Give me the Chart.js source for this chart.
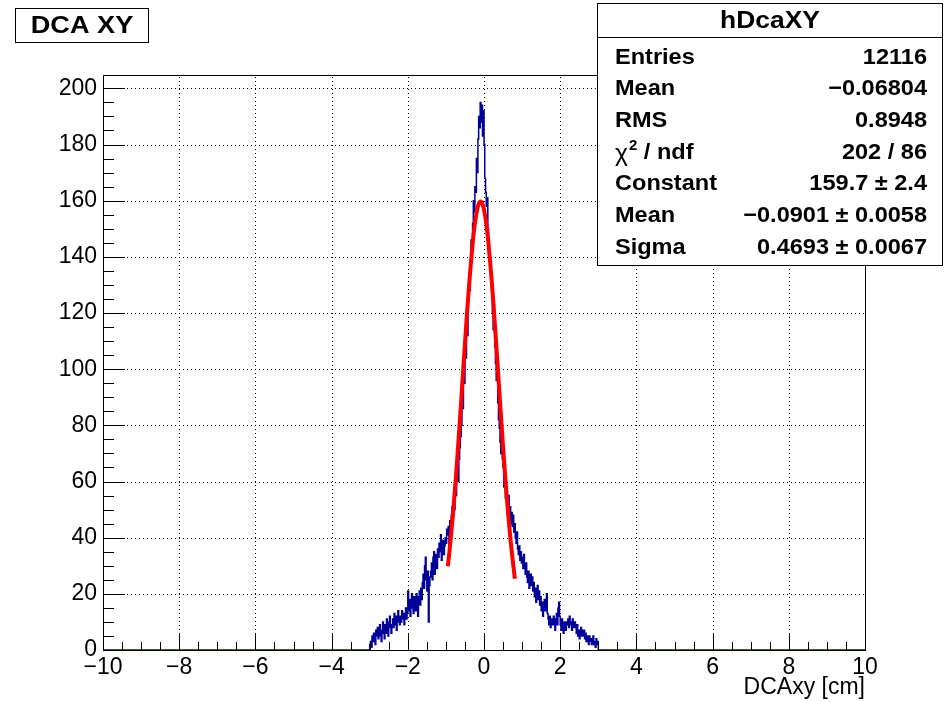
<!DOCTYPE html>
<html>
<head>
<meta charset="utf-8">
<script src="https://cdn.jsdelivr.net/npm/chart.js@4.4.0/dist/chart.umd.min.js"></script>
<style>
  html, body { margin: 0; padding: 0; background: #fff; }
</style>
</head>
<body>
<canvas id="myChart" width="944" height="702"></canvas>
<script>
// histogram hDcaXY: 1000 bins from -10 to 10, only [-3, 3) is filled
var histMin = -10;
var histMax = 10;
var binWidth = 0.02;
var firstFilledEdge = -3.0;
// bin contents, 10 bins (0.2 cm) per row, starting at -3.00
var counts = [
  2, 3, 1, 5, 3, 6, 4, 2, 7, 5,
  8, 4, 6, 9, 5, 3, 7, 10, 6, 4,
  9, 6, 11, 7, 5, 10, 12, 8, 6, 9,
  11, 8, 13, 9, 12, 7, 10, 14, 11, 9,
  12, 10, 14, 11, 13, 9, 12, 15, 11, 13,
  21, 14, 18, 12, 17, 20, 15, 13, 19, 16,
  14, 20, 17, 12, 19, 21, 16, 22, 18, 24,
  27, 22, 30, 33, 25, 21, 28, 10, 23, 26,
  28, 31, 25, 33, 35, 27, 30, 34, 29, 36,
  33, 38, 35, 41, 32, 36, 39, 34, 37, 40,
  38, 43, 41, 44, 36, 46, 42, 48, 51, 47,
  53, 50, 58, 55, 61, 64, 60, 68, 72, 76,
  80, 92, 86, 98, 95, 108, 104, 116, 112, 124,
  130, 128, 138, 146, 142, 152, 160, 156, 165, 163,
  175, 170, 182, 190, 186, 195, 188, 194, 183, 192,
  180, 168, 163, 158, 161, 150, 146, 140, 135, 130,
  128, 120, 114, 118, 108, 102, 96, 99, 88, 82,
  79, 74, 70, 76, 68, 65, 58, 62, 54, 57,
  52, 49, 55, 47, 51, 45, 49, 44, 48, 42,
  45, 40, 38, 42, 36, 34, 37, 32, 35, 31,
  33, 29, 34, 30, 27, 31, 26, 24, 28, 22,
  25, 27, 23, 26, 21, 24, 19, 22, 17, 20,
  23, 18, 21, 16, 19, 14, 17, 12, 15, 18,
  14, 17, 20, 13, 11, 9, 12, 8, 10, 11,
  9, 12, 10, 7, 11, 13, 9, 15, 17, 12,
  9, 7, 11, 8, 6, 10, 8, 7, 10, 9,
  11, 8, 12, 9, 10, 7, 11, 9, 8, 10,
  8, 6, 9, 5, 7, 4, 6, 8, 5, 7,
  5, 7, 4, 6, 3, 5, 4, 2, 5, 3,
  4, 2, 3, 5, 2, 3, 1, 4, 2, 3
];

// gaus fit curve
var fitX = [-0.95, -0.9, -0.8, -0.7, -0.6, -0.5, -0.4, -0.3, -0.25, -0.2, -0.15, -0.1, -0.05, 0, 0.05, 0.1, 0.2, 0.3, 0.4, 0.5, 0.6, 0.7, 0.81];
var fitY = [29.8, 36.0, 50.9, 68.6, 88.5, 109.1, 128.4, 144.5, 150.7, 155.4, 158.4, 159.7, 159.1, 156.8, 152.7, 147.1, 131.9, 113.1, 92.6, 72.4, 54.2, 38.7, 25.4];

// axes
var xTickStep = 2;
var xMinorStep = 0.5;
var yMax = 204.75;
var yTickStep = 20;
var yMinorStep = 5;

// boxes
var titleText = 'DCA XY';
var statsTitle = 'hDcaXY';
var statsLabels = ['Entries', 'Mean', 'RMS', 'CHI2', 'Constant', 'Mean', 'Sigma'];
var statsValues = ['12116', '\u22120.06804', '0.8948', '202 / 86', '159.7 \u00b1 2.4', '\u22120.0901 \u00b1 0.0058', '0.4693 \u00b1 0.0067'];

var FONT = '"Liberation Sans", Arial, Helvetica, sans-serif';

// step outline points (low edge of each bin)
var histPoints = [{x: histMin, y: 0}];
for (var i = 0; i < counts.length; i++) {
  histPoints.push({x: +(firstFilledEdge + i * binWidth).toFixed(2), y: counts[i]});
}
histPoints.push({x: +(firstFilledEdge + counts.length * binWidth).toFixed(2), y: 0});
histPoints.push({x: histMax, y: 0});

var fitPoints = fitX.map(function(x, i) { return {x: x, y: fitY[i]}; });

function stretchText(ctx, text, x, y, align, font, sx) {
  ctx.save();
  ctx.translate(x, y);
  ctx.scale(sx, 1);
  ctx.font = font;
  ctx.textAlign = align;
  ctx.textBaseline = 'middle';
  ctx.fillText(text, 0, 0);
  ctx.restore();
}

var rootFrame = {
  id: 'rootFrame',
  beforeDatasetsDraw: function(chart) {
    var ctx = chart.ctx, a = chart.chartArea;
    var xs = chart.scales.x, ys = chart.scales.y;
    ctx.save();
    ctx.strokeStyle = '#000';
    ctx.lineWidth = 1;
    ctx.setLineDash([1, 3]);
    xs.ticks.forEach(function(t) {
      if (t.value <= histMin || t.value >= histMax) return;
      var px = Math.round(xs.getPixelForValue(t.value)) + 0.5;
      ctx.beginPath(); ctx.moveTo(px, a.bottom); ctx.lineTo(px, a.top); ctx.stroke();
    });
    ys.ticks.forEach(function(t) {
      if (t.value <= 0) return;
      var py = Math.round(ys.getPixelForValue(t.value)) + 0.5;
      ctx.beginPath(); ctx.moveTo(a.left, py); ctx.lineTo(a.right, py); ctx.stroke();
    });
    ctx.restore();
  },
  afterDatasetsDraw: function(chart) {
    var ctx = chart.ctx, a = chart.chartArea;
    var xs = chart.scales.x, ys = chart.scales.y;
    ctx.save();
    ctx.strokeStyle = '#000';
    ctx.lineWidth = 1;
    ctx.strokeRect(Math.round(a.left) + 0.5, Math.round(a.top) + 0.5,
      Math.round(a.right - a.left), Math.round(a.bottom - a.top));
    // inward ticks
    ctx.beginPath();
    var v;
    for (v = histMin; v <= histMax + 1e-9; v += xMinorStep) {
      var px = Math.round(xs.getPixelForValue(v)) + 0.5;
      var major = Math.abs(v / xTickStep - Math.round(v / xTickStep)) < 1e-6;
      ctx.moveTo(px, a.bottom);
      ctx.lineTo(px, a.bottom - (major ? 17 : 8));
    }
    for (v = 0; v <= yMax; v += yMinorStep) {
      var py = Math.round(ys.getPixelForValue(v)) + 0.5;
      var majorY = v % yTickStep === 0;
      ctx.moveTo(a.left, py);
      ctx.lineTo(a.left + (majorY ? 22 : 11), py);
    }
    ctx.stroke();
    ctx.restore();
  },
  afterDraw: function(chart) {
    var ctx = chart.ctx;
    ctx.save();
    ctx.fillStyle = '#fff';
    ctx.strokeStyle = '#000';
    ctx.lineWidth = 1;

    // title box
    ctx.fillRect(15, 8, 134, 35);
    ctx.strokeRect(15.5, 8.5, 133, 34);
    ctx.fillStyle = '#000';
    stretchText(ctx, titleText, 82, 26, 'center', 'bold 24px ' + FONT, 1.13);

    // stats box
    ctx.fillStyle = '#fff';
    ctx.fillRect(597, 3, 347, 263);
    ctx.strokeRect(597.5, 3.5, 345, 262);
    ctx.beginPath(); ctx.moveTo(597, 37.5); ctx.lineTo(943, 37.5); ctx.stroke();
    ctx.fillStyle = '#000';
    stretchText(ctx, statsTitle, 770, 21, 'center', 'bold 24px ' + FONT, 1.1);

    var rowFont = 'bold 22px ' + FONT;
    var sx = 1.07;
    for (var i = 0; i < statsLabels.length; i++) {
      var cy = 57.5 + 31.7 * i;
      if (statsLabels[i] === 'CHI2') {
        ctx.save();
        ctx.translate(615, cy);
        ctx.scale(sx, 1);
        ctx.textBaseline = 'middle';
        ctx.textAlign = 'left';
        ctx.font = '23px ' + FONT;
        ctx.fillText('\u03c7', 0, 2);
        var w = ctx.measureText('\u03c7').width;
        ctx.font = 'bold 14px ' + FONT;
        ctx.fillText('2', w + 1, -6);
        var w2 = ctx.measureText('2').width;
        ctx.font = rowFont;
        ctx.fillText(' / ndf', w + w2 + 1, 0);
        ctx.restore();
      } else {
        stretchText(ctx, statsLabels[i], 615, cy, 'left', rowFont, sx);
      }
      stretchText(ctx, statsValues[i], 927, cy, 'right', rowFont, sx);
    }
    ctx.restore();
  }
};

var ctx = document.getElementById('myChart').getContext('2d');
var chart = new Chart(ctx, {
  type: 'line',
  data: {
    datasets: [{
      label: 'gaus fit',
      data: fitPoints,
      borderColor: 'rgb(255, 0, 0)',
      borderWidth: 4,
      pointRadius: 0,
      tension: 0.4,
      fill: false,
      order: 0
    }, {
      label: 'hDcaXY',
      data: histPoints,
      borderColor: 'rgb(0, 0, 153)',
      borderWidth: 1.5,
      pointRadius: 0,
      stepped: 'before',
      fill: false,
      clip: false,
      order: 1
    }]
  },
  options: {
    responsive: false,
    devicePixelRatio: 1,
    animation: false,
    layout: { padding: { left: 0, right: 79, top: 75, bottom: 0 } },
    plugins: {
      legend: { display: false },
      tooltip: { enabled: false },
      title: { display: false }
    },
    scales: {
      x: {
        type: 'linear',
        min: histMin,
        max: histMax,
        grid: { display: false, drawTicks: false },
        border: { display: false },
        ticks: {
          stepSize: xTickStep,
          autoSkip: false,
          maxRotation: 0,
          padding: 4,
          color: '#000',
          font: { family: FONT, size: 23 },
          callback: function(v) { return String(v).replace('-', '\u2212'); }
        },
        title: {
          display: true,
          text: 'DCAxy [cm]',
          align: 'end',
          color: '#000',
          font: { family: FONT, size: 23 },
          padding: { top: 0, bottom: 1 }
        },
        afterFit: function(s) { s.height = 52; }
      },
      y: {
        type: 'linear',
        min: 0,
        max: yMax,
        grid: { display: false, drawTicks: false },
        border: { display: false },
        ticks: {
          stepSize: yTickStep,
          includeBounds: false,
          padding: 6,
          color: '#000',
          font: { family: FONT, size: 23 }
        },
        afterFit: function(s) { s.width = 103; }
      }
    }
  },
  plugins: [rootFrame]
});
</script>
</body>
</html>
